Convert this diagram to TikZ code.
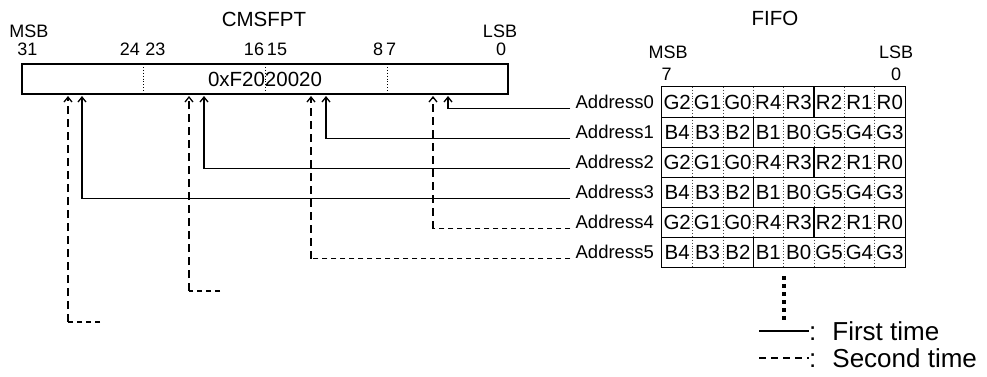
\documentclass[tikz,border=0pt]{standalone}
\usepackage{fontspec}
\setmainfont{Liberation Sans}
\usepackage{tikz}
\usetikzlibrary{
  arrows.meta,
  positioning
}
\definecolor{darkgrey}{HTML}{444444}
\tikzset{
  regbox/.style={
    rectangle, draw, line width=1.2pt, minimum width=486pt,
    minimum height=30pt, inner sep=0pt, font=\fontsize{20.5}{24}\selectfont
  },
  cellbox/.style={
    rectangle, minimum width=30.375pt, minimum height=30pt,
    inner sep=0pt, font=\fontsize{20.5}{24}\selectfont
  },
  titlelab/.style={font=\fontsize{20.5}{24}\selectfont, inner sep=0pt},
  bitlab/.style={font=\fontsize{18}{21}\selectfont, inner sep=0pt},
  addrlab/.style={font=\fontsize{18.5}{22}\selectfont, inner xsep=5pt, inner ysep=0pt},
  legtext/.style={font=\fontsize{26}{30}\selectfont, inner sep=0pt},
  firstline/.style={line width=1.3pt},
  secondline/.style={line width=1.2pt, dash pattern=on 5pt off 4pt},
  firstarrow/.style={
    line width=2.1pt, shorten >=2pt,
    -{Straight Barb[length=5pt,width=8pt,line width=1.3pt]}
  },
  secondarrow/.style={firstarrow, dash pattern=on 8pt off 5pt},
  gridsolid/.style={line width=1.2pt},
  griddots/.style={line width=0.9pt, dotted, color=darkgrey},
}

\begin{document}
\begin{tikzpicture}[x=1pt, y=-1pt]
  \useasboundingbox (0,0) rectangle (987,376);

  %% ── CMSFPT register ───────────────────────────────────────────────────────
  \node[regbox] (reg) at (265,79) {0xF2020020};
  \foreach \xd in {143,265,387}
    \draw[griddots, color=black] (\xd,64) -- (\xd,94);

  \node[titlelab] (cmsfpt) at (264,19.5) {CMSFPT};
  \node[bitlab]   (msbreg) at (29,31)    {MSB};
  \node[bitlab]   (lsbreg) at (500,31)   {LSB};
  \foreach \lab/\xb in {31/27.5, 24/130, 23/155.5, 16/254, 15/277, 8/378, 7/391, 0/501}
    \node[bitlab] (bit\lab) at (\xb,49) {\lab};

  %% ── FIFO ──────────────────────────────────────────────────────────────────
  \node[titlelab] (fifo)    at (775,18.5) {FIFO};
  \node[bitlab]   (msbfifo) at (668,52.5) {MSB};
  \node[bitlab]   (lsbfifo) at (896,52.5) {LSB};
  \node[bitlab]   (fbit7)   at (666.5,74) {7};
  \node[bitlab]   (fbit0)   at (896,74)   {0};

  \foreach \row in {0,...,5} {
    \pgfmathtruncatemacro\oddrow{mod(\row,2)}
    \ifnum\oddrow=0 \def\bits{G2,G1,G0,R4,R3,R2,R1,R0}\def\splitcol{4}
    \else \def\bits{B4,B3,B2,B1,B0,G5,G4,G3}\def\splitcol{2}\fi
    \foreach \bitname [count=\col from 0] in \bits
      \node[cellbox] (c\row\col) at ({662+30.375*(\col+0.5)}, {87+30*(\row+0.5)}) {\bitname};
    \foreach \col in {0,...,6} {
      \ifnum\col=\splitcol
        \draw[gridsolid] (c\row\col.north east) -- (c\row\col.south east);
      \else
        \draw[griddots] (c\row\col.north east) -- (c\row\col.south east);
      \fi
    }
    \node[addrlab, anchor=east] (addr\row) at (659, {87+30*(\row+0.5)}) {Address\row};
  }
  \draw[gridsolid] (c00.north west) rectangle (c57.south east);
  \foreach \row in {0,...,4}
    \draw[gridsolid] (c\row0.south west) -- (c\row7.south east);

  \coordinate (dottop) at (784,276);
  \coordinate (dotbot) at (784,320);
  \draw[line width=4pt, dash pattern=on 4pt off 4pt] (dottop) -- (dotbot);

  %% ── Arrows ────────────────────────────────────────────────────────────────
  \foreach \k/\xt in {0/448, 1/326, 2/204, 3/82, 4/433, 5/311, 6/189, 7/68}
    \coordinate (tap\k) at (\xt,94);
  \coordinate (stub6) at (220,291);
  \coordinate (stub7) at (100,322);

  % first time
  \foreach \k in {0,...,3} {
    \draw[firstline]  (addr\k.base west) -- (addr\k.base west -| tap\k);
    \draw[firstarrow] (addr\k.base west -| tap\k) -- (tap\k);
  }
  % second time
  \foreach \k in {4,5} {
    \draw[secondline]  (addr\k.base west) -- (addr\k.base west -| tap\k);
    \draw[secondarrow] (addr\k.base west -| tap\k) -- (tap\k);
  }
  \foreach \k in {6,7} {
    \draw[secondline]  (stub\k) -- (stub\k -| tap\k);
    \draw[secondarrow] (stub\k -| tap\k) -- (tap\k);
  }

  %% ── Legend ────────────────────────────────────────────────────────────────
  \node[legtext, anchor=west] (first)  at (809,331) {:\hspace{16pt}First time};
  \node[legtext, anchor=west] (second) at (809,358) {:\hspace{16pt}Second time};
  \coordinate (lega) at (759,331);
  \coordinate (legb) at (759,358);
  \draw[line width=1.8pt] (lega) -- (first.west);
  \draw[line width=1.8pt, dash pattern=on 7pt off 5pt] (legb) -- (second.west);

\end{tikzpicture}
\end{document}
